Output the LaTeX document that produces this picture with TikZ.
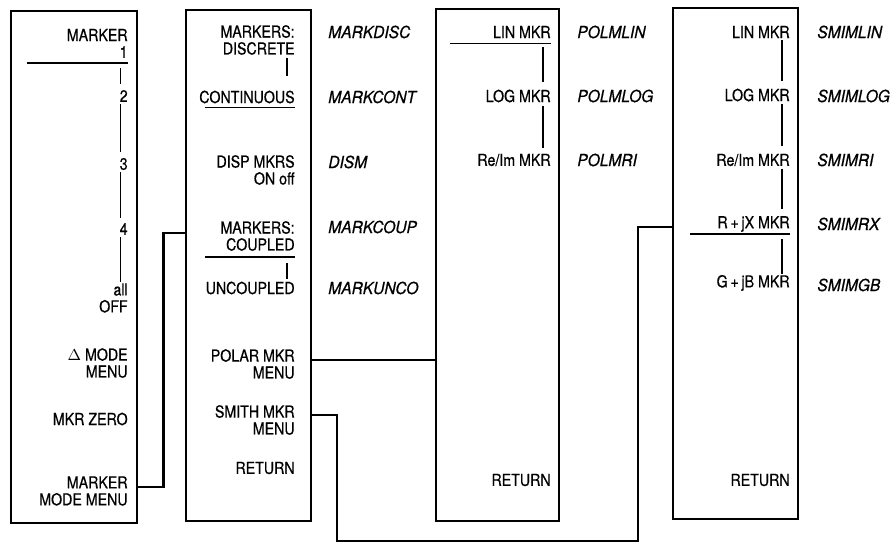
\documentclass[tikz,border=0pt]{standalone}
\usepackage{fontspec}
\setmainfont{TeX Gyre Heros}[FakeStretch=0.86, FakeBold=0.6]
\newfontfamily\codefont{TeX Gyre Heros}[FakeStretch=0.94, FakeBold=0.6]
\usetikzlibrary{positioning}

\begin{document}
\begin{tikzpicture}[
    x=0.02cm, y=-0.02cm,
    menu/.style={rectangle, draw, line width=1.4pt, anchor=north west, inner sep=0pt},
    softkey/.style={anchor=east, align=right, inner sep=0pt, font=\fontsize{9.4}{9.64}\selectfont},
    mnemonic/.style={anchor=west, inner sep=0pt, font=\fontsize{9.4}{9.64}\selectfont\codefont\itshape},
    link/.style={line width=1.3pt},
    uline/.style={line width=0.9pt},
    selbar/.style={line width=0.9pt},
]
\useasboundingbox (0,0) rectangle (891,543);

% === Menu boxes ===
\node[menu, minimum width=2.52cm, minimum height=10.24cm] (mkrbox) at (10,10) {};
\node[menu, minimum width=2.50cm, minimum height=10.22cm] (modebox) at (185,9) {};
\node[menu, minimum width=2.46cm, minimum height=10.24cm] (polbox) at (435,8) {};
\node[menu, minimum width=2.50cm, minimum height=10.22cm] (smibox) at (672,7) {};

% === MARKER menu ===
\node[softkey] (mkr) at (128,35) {MARKER};
\node[softkey] (m1) at (128,52) {1};
\node[softkey] (m2) at (128,96) {2};
\node[softkey] (m3) at (128,164) {3};
\node[softkey] (m4) at (128,229) {4};
\node[softkey] (alloff) at (128,298) {all\\OFF};
\node[softkey] (delta) at (128,363) {$\Delta$ MODE\\MENU};
\node[softkey] (zero) at (128,419) {MKR ZERO};
\node[softkey] (mmm) at (128,491) {MARKER\\MODE MENU};

\draw[uline] ([shift={(0,5)}]m1.south east) -- ([shift={(17,5)}]m1.south east -| mkrbox.west);
\draw[selbar] ([shift={(-3,10)}]m1.south) -- ([shift={(-3,-6)}]m2.north);
\draw[selbar] ([shift={(-3,2)}]m2.south) -- ([shift={(-3,-6)}]m3.north);
\draw[selbar] ([shift={(-3,2)}]m3.south) -- ([shift={(-3,-5)}]m4.north);
\draw[selbar] ([shift={(-3,2)}]m4.south) -- ([shift={(-3,-1)}]m4.south |- alloff.north);

% === MARKER MODE menu ===
\node[softkey] (disc) at (295,40) {MARKERS:\\DISCRETE};
\node[softkey] (cont) at (295,97) {CONTINUOUS};
\node[softkey] (dism) at (295,170) {DISP MKRS\\ON off};
\node[softkey] (coup) at (295,236) {MARKERS:\\COUPLED};
\node[softkey] (unco) at (295,288) {UNCOUPLED};
\node[softkey] (polar) at (295,364) {POLAR MKR\\MENU};
\node[softkey] (smith) at (295,420) {SMITH MKR\\MENU};
\node[softkey] (ret2) at (295,468) {RETURN};

\draw[selbar] ([shift={(-8,3)}]disc.south east) -- ([shift={(-8,-14)}]cont.north east);
\draw[uline] ([shift={(0,4)}]cont.south east) -- ([shift={(20,4)}]cont.south east -| modebox.west);
\draw[uline] ([shift={(0,6)}]coup.south east) -- ([shift={(20,6)}]coup.south east -| modebox.west);
\draw[selbar] ([shift={(-8,12)}]coup.south east) -- ([shift={(-8,-2)}]unco.north east);

\node[mnemonic] (markdisc) at (328,32) {MARKDISC};
\node[mnemonic] (markcont) at (328,97) {MARKCONT};
\node[mnemonic] (dismcode) at (328,162) {DISM};
\node[mnemonic] (markcoup) at (328,227) {MARKCOUP};
\node[mnemonic] (markunco) at (328,288) {MARKUNCO};

% === POLAR MKR menu ===
\node[softkey] (plin) at (551,32) {LIN MKR};
\node[softkey] (plog) at (551,96) {LOG MKR};
\node[softkey] (pri) at (551,160) {Re/Im MKR};
\node[softkey] (ret3) at (551,480) {RETURN};

\draw[uline] ([shift={(0,5)}]plin.south east) -- ([shift={(15,5)}]plin.south east -| polbox.west);
\draw[selbar] ([shift={(-8,9)}]plin.south east) -- ([shift={(-8,-7)}]plog.north east);
\draw[selbar] ([shift={(-8,3)}]plog.south east) -- ([shift={(-8,-5)}]pri.north east);

\node[mnemonic] (polmlin) at (577,32) {POLMLIN};
\node[mnemonic] (polmlog) at (577,96) {POLMLOG};
\node[mnemonic] (polmri) at (577,160) {POLMRI};

% === SMITH MKR menu ===
\node[softkey] (slin) at (790,32) {LIN MKR};
\node[softkey] (slog) at (790,95) {LOG MKR};
\node[softkey] (sri) at (790,160) {Re/Im MKR};
\node[softkey] (srx) at (790,224) {R\,+\,jX MKR};
\node[softkey] (sgb) at (790,283) {G\,+\,jB MKR};
\node[softkey] (ret4) at (790,480) {RETURN};

\draw[selbar] ([shift={(-8,2)}]slin.south east) -- ([shift={(-8,-7)}]slog.north east);
\draw[selbar] ([shift={(-8,2)}]slog.south east) -- ([shift={(-8,-7)}]sri.north east);
\draw[selbar] ([shift={(-8,2)}]sri.south east) -- ([shift={(-8,-7)}]srx.north east);
\draw[uline] ([shift={(0,6)}]srx.base east) -- ([shift={(18,6)}]srx.base east -| smibox.west);
\draw[selbar] ([shift={(-8,11)}]srx.base east) -- ([shift={(-8,-1)}]sgb.north east);

\node[mnemonic] (smimlin) at (817,32) {SMIMLIN};
\node[mnemonic] (smimlog) at (817,96) {SMIMLOG};
\node[mnemonic] (smimri) at (817,160) {SMIMRI};
\node[mnemonic] (smimrx) at (817,224) {SMIMRX};
\node[mnemonic] (smimgb) at (817,285) {SMIMGB};

% === Menu links ===
\coordinate (dip1) at (337,541);
\coordinate (dip2) at (638,541);
\draw[link] ([shift={(0,-4)}]mmm.east -| mkrbox.east) -- ++(25,0) |- ([shift={(0,-3)}]coup.west -| modebox.west);
\draw[link] ([shift={(0,-4)}]polar.east -| modebox.east) -- ([shift={(0,-4)}]polar.east -| polbox.west);
\draw[link] ([shift={(0,-5)}]smith.east -| modebox.east) -| (dip1) -- (dip2) |- ([shift={(0,3)}]srx.west -| smibox.west);

\end{tikzpicture}
\end{document}
